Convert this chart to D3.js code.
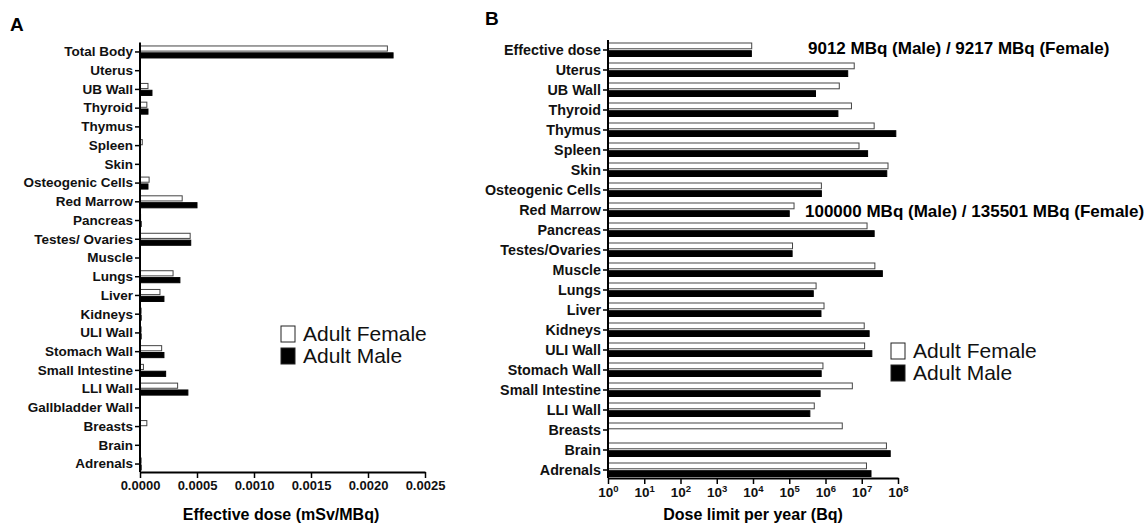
<!DOCTYPE html>
<html>
<head>
<meta charset="utf-8">
<script src="https://cdn.jsdelivr.net/npm/d3@7"></script>
<style>
  body { margin: 0; background: #fff; }
  svg { font-family: Arial, "Liberation Sans", sans-serif; }
  .lbl text { font-weight: bold; fill: #111; }
</style>
</head>
<body>
<script>
// panel A data: effective dose (mSv/MBq)
const organsA = ['Total Body', 'Uterus', 'UB Wall', 'Thyroid', 'Thymus', 'Spleen', 'Skin',
  'Osteogenic Cells', 'Red Marrow', 'Pancreas', 'Testes/ Ovaries', 'Muscle', 'Lungs', 'Liver',
  'Kidneys', 'ULI Wall', 'Stomach Wall', 'Small Intestine', 'LLI Wall', 'Gallbladder Wall',
  'Breasts', 'Brain', 'Adrenals']
const femaleA = [0.00217, 0, 0.00007, 0.00006, 0, 0.00002, 0, 0.00008, 0.00037, 0.000005, 0.00044, 0,
  0.00029, 0.000175, 0.00001, 0.00001, 0.00019, 0.00003, 0.00033, 0, 0.00006, 0, 0.00001]
const maleA = [0.00222, 0, 0.000105, 0.00007, 0, 0, 0, 0.00007, 0.0005, 0.00001, 0.000445, 0,
  0.00035, 0.00021, 0.00001, 0.00001, 0.00021, 0.000225, 0.00042, 0, 0, 0, 0.00001]
const ticksA = [0, 0.0005, 0.001, 0.0015, 0.002, 0.0025]

// panel B data: dose limit per year (Bq)
const organsB = ['Effective dose', 'Uterus', 'UB Wall', 'Thyroid', 'Thymus', 'Spleen', 'Skin',
  'Osteogenic Cells', 'Red Marrow', 'Pancreas', 'Testes/Ovaries', 'Muscle', 'Lungs', 'Liver',
  'Kidneys', 'ULI Wall', 'Stomach Wall', 'Small Intestine', 'LLI Wall', 'Breasts', 'Brain', 'Adrenals']
const femaleB = [9217, 6.2e6, 2.4e6, 5.2e6, 2.2e7, 8.4e6, 5.3e7, 7.7e5, 135501, 1.4e7, 1.23e5, 2.3e7,
  5.5e5, 9.1e5, 1.17e7, 1.2e7, 8.5e5, 5.5e6, 4.9e5, 2.9e6, 4.8e7, 1.35e7]
const maleB = [9012, 4.1e6, 5.3e5, 2.2e6, 8.7e7, 1.45e7, 4.9e7, 7.7e5, 100000, 2.2e7, 1.2e5, 3.7e7,
  4.6e5, 7.5e5, 1.6e7, 1.9e7, 7.6e5, 7.1e5, 3.7e5, null, 6.1e7, 1.8e7]
const ticksB = [1, 10, 100, 1e3, 1e4, 1e5, 1e6, 1e7, 1e8]

const series = ['Adult Female', 'Adult Male']
const notes = ['9012 MBq (Male) / 9217 MBq (Female)', '100000 MBq (Male) / 135501 MBq (Female)']

const w = 1147, h = 524
const svg = d3.select('body').append('svg').attr('width', w).attr('height', h)

function fill(s) { return s === 'Adult Male' ? '#000' : '#fff' }

function drawPanel(opts) {
  const { organs, female, male, x, yRange, xAxisY, inner } = opts
  const y = d3.scaleBand().domain(organs).range(yRange)
  const sub = d3.scaleBand().domain(series).range(inner).paddingInner(0.25)
  const g = svg.append('g')

  const rows = organs.map((o, i) => ({ organ: o, vals: [female[i], male[i]] }))
  const x0 = x.range()[0]

  g.selectAll('g.row')
    .data(rows)
    .enter()
    .append('g')
    .attr('transform', d => `translate(0,${y(d.organ) + y.bandwidth() / 2})`)
    .selectAll('rect')
    .data(d => d.vals.map((v, j) => ({ v, s: series[j] })).filter(e => e.v != null && e.v > 0))
    .enter()
    .append('rect')
    .attr('x', x0)
    .attr('y', d => sub(d.s))
    .attr('width', d => Math.max(0, x(d.v) - x0))
    .attr('height', sub.bandwidth())
    .attr('fill', d => fill(d.s))
    .attr('stroke', d => d.s === 'Adult Male' ? '#000' : '#444')
    .attr('stroke-width', 1)

  const ya = g.append('g').attr('class', 'lbl')
    .attr('transform', `translate(${x0},0)`)
    .call(d3.axisLeft(y).tickSize(5).tickSizeOuter(0).tickPadding(2))
  ya.select('.domain').attr('stroke-width', 2).attr('d', `M0,${yRange[0]}V${xAxisY}`)
  ya.selectAll('.tick line').attr('stroke-width', 1.5)
  ya.selectAll('.tick text').attr('font-size', opts.labelSize)

  const xa = g.append('g')
    .attr('transform', `translate(0,${xAxisY})`)
    .call(opts.axis)
  xa.select('.domain').attr('stroke-width', 2)
  xa.selectAll('.tick line').attr('stroke-width', 1.5)
  xa.selectAll('.tick text').attr('font-weight', 'bold').attr('font-size', 13).attr('fill', '#111')
  return xa
}

// ---- panel A
const xA = d3.scaleLinear().domain([0, 0.0025]).range([140, 425])
drawPanel({
  organs: organsA, female: femaleA, male: maleA, x: xA, labelSize: 13.5,
  yRange: [42.6, 473.4], xAxisY: 472, inner: [-6, 6],
  axis: d3.axisBottom(xA).tickValues(ticksA).tickFormat(d3.format('.4f')).tickSize(6).tickSizeOuter(0).tickPadding(3)
})

// ---- panel B
const xB = d3.scaleLog().domain([1, 1e8]).range([608, 898])
const xaB = drawPanel({
  organs: organsB, female: femaleB, male: maleB, x: xB, labelSize: 14.3,
  yRange: [40, 480], xAxisY: 478, inner: [-7, 6.5],
  axis: d3.axisBottom(xB).tickValues(ticksB).tickFormat(() => '').tickSize(6).tickSizeOuter(0).tickPadding(3)
})
xaB.selectAll('.tick text').each(function (d) {
  const t = d3.select(this).text(null).attr('font-size', 13.5)
  t.append('tspan').text('10')
  t.append('tspan').text(Math.round(Math.log10(d))).attr('font-size', 9.5).attr('dy', -5)
})

// panel letters
svg.append('text').attr('x', 10).attr('y', 31).text('A')
  .attr('font-weight', 'bold').attr('font-size', 19)
svg.append('text').attr('x', 485).attr('y', 25).text('B')
  .attr('font-weight', 'bold').attr('font-size', 19)

// axis titles
svg.append('text').attr('x', 281).attr('y', 520).attr('text-anchor', 'middle')
  .attr('font-weight', 'bold').attr('font-size', 16).text('Effective dose (mSv/MBq)')
svg.append('text').attr('x', 753).attr('y', 520).attr('text-anchor', 'middle')
  .attr('font-weight', 'bold').attr('font-size', 16).text('Dose limit per year (Bq)')

// annotations
svg.append('text').attr('x', 808).attr('y', 54).attr('font-weight', 'bold').attr('font-size', 17).text(notes[0])
svg.append('text').attr('x', 805).attr('y', 217).attr('font-weight', 'bold').attr('font-size', 17).text(notes[1])

// legends
function legend(x, y) {
  const lg = svg.append('g').attr('transform', `translate(${x},${y})`)
  series.forEach((s, i) => {
    lg.append('rect').attr('x', 0).attr('y', i * 22 - 15).attr('width', 14).attr('height', 16)
      .attr('fill', fill(s)).attr('stroke', '#222').attr('stroke-width', 1)
    lg.append('text').attr('x', 22).attr('y', i * 22).attr('font-size', 21).attr('fill', '#111').text(s)
  })
}
legend(281, 341)
legend(891, 358)
</script>
</body>
</html>
